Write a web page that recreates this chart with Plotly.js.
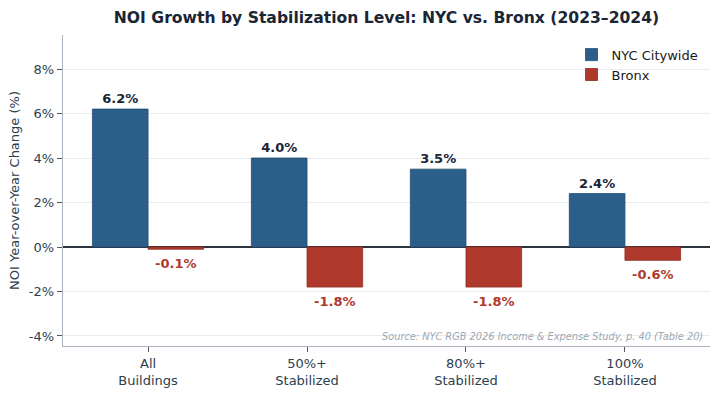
<!DOCTYPE html>
<html>
<head>
<meta charset="utf-8">
<script src="https://cdn.plot.ly/plotly-3.0.1.min.js"></script>
<style>html,body{margin:0;padding:0;background:#fff;}#chart{width:720px;height:393px;}</style>
</head>
<body>
<div id="chart"></div>
<script>
const categories = ["All<br>Buildings", "50%+<br>Stabilized", "80%+<br>Stabilized", "100%<br>Stabilized"];
const nycValues = [6.2, 4.0, 3.5, 2.4];
const bronxValues = [-0.1, -1.8, -1.8, -0.6];
const yTickValues = [-4, -2, 0, 2, 4, 6, 8];
const yTickLabels = ["-4%", "-2%", "0%", "2%", "4%", "6%", "8%"];

const font = "DejaVu Sans, sans-serif";

const traces = [
  {
    type: "bar", name: "NYC Citywide", x: categories, y: nycValues,
    width: 0.35, offset: -0.35,
    marker: {color: "#2b5f8a", line: {color: "#1f4a6e", width: 0.8}},
    text: nycValues.map(v => v.toFixed(1) + "%"),
    textposition: "outside", cliponaxis: false,
    textfont: {family: font, size: 13, color: "#1a2535", weight: "bold"},
    hoverinfo: "skip"
  },
  {
    type: "bar", name: "Bronx", x: categories, y: bronxValues,
    width: 0.35, offset: 0,
    marker: {color: "#b0392e", line: {color: "#8e2b22", width: 0.8}},
    textposition: "none",
    hoverinfo: "skip"
  }
];

const annotations = bronxValues.map((v, i) => ({
  x: i + 0.175, y: v, xref: "x", yref: "y",
  text: "<b>" + v.toFixed(1) + "%</b>", showarrow: false,
  yanchor: "top", yshift: -5,
  font: {family: font, size: 13, color: "#b0392e"}
}));
annotations.push({
  xref: "paper", yref: "paper", x: 0.993, y: 0.005, xanchor: "right", yanchor: "bottom",
  text: "<i>Source: NYC RGB 2026 Income &amp; Expense Study, p. 40 (Table 20)</i>",
  showarrow: false, font: {family: font, size: 9.8, color: "#a0a8b2"}
});

const layout = {
  width: 720, height: 393,
  margin: {l: 63, r: 10, t: 35, b: 47},
  paper_bgcolor: "#ffffff", plot_bgcolor: "#ffffff",
  font: {family: font, size: 13, color: "#2c3e50"},
  title: {text: "<b>NOI Growth by Stabilization Level: NYC vs. Bronx (2023–2024)</b>",
          font: {family: font, size: 15.6, color: "#1a2535"},
          xref: "paper", x: 0.5, xanchor: "center", yref: "container", y: 0.955, yanchor: "middle"},
  barmode: "overlay",
  showlegend: true,
  legend: {x: 0.99, y: 0.985, xanchor: "right", yanchor: "top", bgcolor: "rgba(255,255,255,0)",
           font: {family: font, size: 13, color: "#1a1a1a"}},
  xaxis: {
    type: "category", range: [-0.535, 3.535],
    showgrid: false, zeroline: false,
    showline: true, linecolor: "#a9b4c0", linewidth: 1.2,
    ticks: "outside", ticklen: 5, tickcolor: "#555",
    tickfont: {family: font, size: 13, color: "#2c3e50"}
  },
  yaxis: {
    range: [-4.45, 9.53], tickmode: "array", tickvals: yTickValues, ticktext: yTickLabels,
    showgrid: true, gridcolor: "#e8ecf0", gridwidth: 1,
    zeroline: true, zerolinecolor: "#2c3440", zerolinewidth: 1.3,
    showline: true, linecolor: "#a9b4c0", linewidth: 1.2,
    ticks: "outside", ticklen: 5, tickcolor: "#555",
    tickfont: {family: font, size: 13, color: "#2c3e50"},
    title: {text: "NOI Year-over-Year Change (%)", font: {family: font, size: 13, color: "#2c3e50"}, standoff: 6}
  },
  annotations: annotations
};

Plotly.newPlot("chart", traces, layout, {displayModeBar: false, staticPlot: true});
</script>
</body>
</html>
